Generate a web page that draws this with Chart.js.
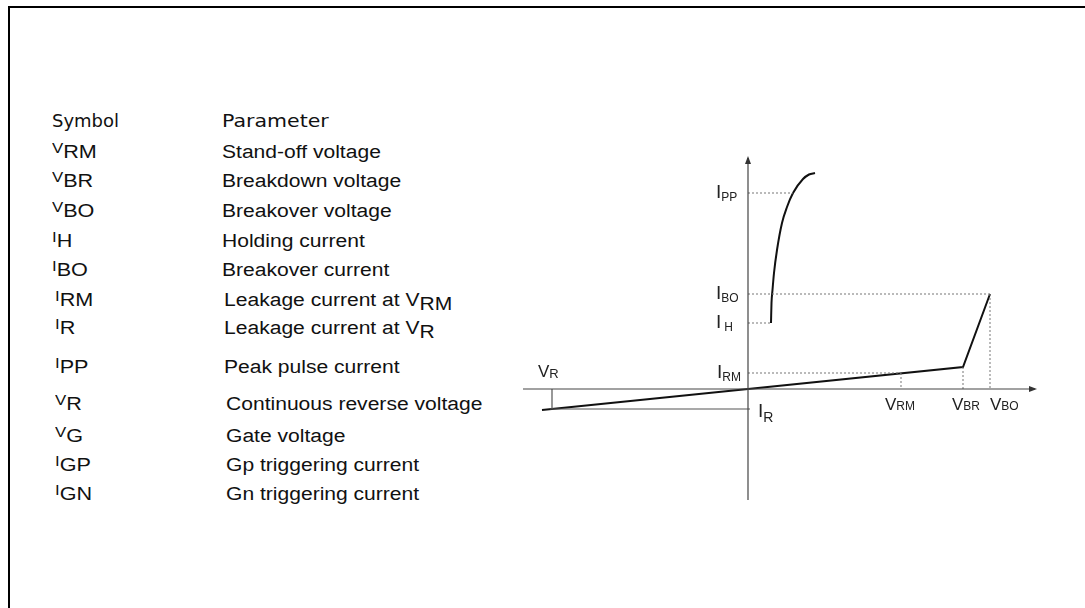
<!DOCTYPE html>
<html>
<head>
<meta charset="utf-8">
<script src="https://cdn.jsdelivr.net/npm/chart.js@4.4.0/dist/chart.umd.min.js"></script>
<style>
  body { margin: 0; background: #fff; width: 1085px; height: 608px; overflow: hidden; position: relative; }
  #frame { position: absolute; left: 8px; top: 6px; width: 1200px; height: 700px; border-top: 2px solid #000; border-left: 2px solid #000; }
  #chartBox { position: absolute; left: 0; top: 0; width: 1085px; height: 608px; }
  .row { position: absolute; white-space: nowrap; color: #111; line-height: 20px; transform-origin: left center; }
  .hdr { font-family: "DejaVu Sans", Verdana, sans-serif; font-size: 18px; }
  .hdr.wide { transform: scaleX(1.14); }
  .par { font-family: "Liberation Sans", Arial, sans-serif; font-size: 18px; transform: scaleX(1.17); }
  .sym { font-family: "Liberation Sans", Arial, sans-serif; transform: scaleX(1.2); }
  .sym .m { font-size: 14px; position: relative; top: -5px; }
  .sym .s { font-size: 18px; }
  .par .sub { position: relative; top: 4px; }
</style>
</head>
<body>
<div id="frame"></div>
<div id="table"></div>
<div id="chartBox"><canvas id="myChart"></canvas></div>
<script>
// Symbol table
var symbols = [
  ['V', 'RM'], ['V', 'BR'], ['V', 'BO'], ['I', 'H'], ['I', 'BO'], ['I', 'RM'],
  ['I', 'R'], ['I', 'PP'], ['V', 'R'], ['V', 'G'], ['I', 'GP'], ['I', 'GN']
];
var parameters = [
  'Stand-off voltage', 'Breakdown voltage', 'Breakover voltage', 'Holding current',
  'Breakover current', 'Leakage current at V<span class="sub">RM</span>',
  'Leakage current at V<span class="sub">R</span>', 'Peak pulse current',
  'Continuous reverse voltage', 'Gate voltage', 'Gp triggering current', 'Gn triggering current'
];

// schematic I-V characteristic (arbitrary units: V along x, I along y)
var V_R = -19.6, V_RM = 15.3, V_BR = 21.5, V_BO = 24.2;
var I_R = -2.0, I_RM = 1.6, I_H = 6.6, I_BO = 9.5, I_PP = 19.6;
var I_atBR = 2.2;
var mainV = [-20.6, 0, V_BR, V_BO];
var mainI = [-2.1, 0, I_atBR, I_BO];
var holdV = [2.3, 2.35, 2.45, 2.6, 2.9, 3.4, 3.9, 4.5, 5.5, 6.1, 6.7];
var holdI = [I_H, 8.6, 9.9, 11.6, 13.9, 16.6, 18.2, I_PP, 21.0, 21.45, 21.6];
var axisV = [-22.5, 28.7];
var axisI = [-11.1, 23.1];

// table layout
var rowBase = [158, 187, 217, 247, 276, 306, 334, 373, 410, 442, 471, 500];
var symX = [52, 52, 52, 52, 52, 55, 55, 55, 55, 55, 55, 55];
var parX = [222, 222, 222, 222, 222, 224, 224, 224, 226, 226, 226, 226];

var html = '<div class="row hdr" style="left:52px;top:111px">Symbol</div>' +
           '<div class="row hdr wide" style="left:222px;top:111px">Parameter</div>';
for (var i = 0; i < symbols.length; i++) {
  var rowTop = rowBase[i] - 16;
  html += '<div class="row sym" style="left:' + symX[i] + 'px;top:' + rowTop + 'px"><span class="m">' +
          symbols[i][0] + '</span><span class="s">' + symbols[i][1] + '</span></div>';
  html += '<div class="row par" style="left:' + parX[i] + 'px;top:' + rowTop + 'px">' + parameters[i] + '</div>';
}
document.getElementById('table').innerHTML = html;

function pts(xs, ys) {
  return xs.map(function (x, k) { return { x: x, y: ys[k] }; });
}

var dotted = [
  [[0, I_PP], [4.5, I_PP]],
  [[0, I_BO], [V_BO, I_BO]],
  [[0, I_H], [holdV[0], I_H]],
  [[0, I_RM], [V_RM, I_RM]],
  [[V_RM, I_RM], [V_RM, 0]],
  [[V_BR, I_atBR], [V_BR, 0]],
  [[V_BO, I_BO], [V_BO, 0]]
];
var solidGray = [
  [[V_R, 0], [V_R, I_R]],
  [[-19.8, I_R], [0.2, I_R]]
];

var datasets = [
  { data: pts(axisV, [0, 0]), borderColor: '#444', borderWidth: 1.2 },
  { data: pts([0, 0], axisI), borderColor: '#444', borderWidth: 1.2 }
];
dotted.forEach(function (seg) {
  datasets.push({ data: pts([seg[0][0], seg[1][0]], [seg[0][1], seg[1][1]]),
    borderColor: '#777', borderWidth: 1, borderDash: [2, 2] });
});
solidGray.forEach(function (seg) {
  datasets.push({ data: pts([seg[0][0], seg[1][0]], [seg[0][1], seg[1][1]]),
    borderColor: '#555', borderWidth: 1.2 });
});
datasets.push({ data: pts(mainV, mainI), borderColor: '#111', borderWidth: 2 });
datasets.push({ data: pts(holdV, holdI), borderColor: '#111', borderWidth: 2, cubicInterpolationMode: 'monotone' });
datasets.forEach(function (d) { d.showLine = true; d.pointRadius = 0; d.clip = false; d.fill = false; });

// labels with subscripts + axis arrows
var labelPlugin = {
  id: 'labels',
  afterDatasetsDraw: function (chart) {
    var ctx = chart.ctx, xs = chart.scales.x, ys = chart.scales.y;
    var x0 = xs.getPixelForValue(0), y0 = ys.getPixelForValue(0);
    ctx.save();
    ctx.fillStyle = '#333';
    // arrows
    var xe = xs.getPixelForValue(axisV[1]), yt = ys.getPixelForValue(axisI[1]);
    ctx.beginPath(); ctx.moveTo(xe + 2, y0); ctx.lineTo(xe - 6, y0 - 3); ctx.lineTo(xe - 6, y0 + 3); ctx.fill();
    ctx.beginPath(); ctx.moveTo(x0, yt - 2); ctx.lineTo(x0 - 3, yt + 6); ctx.lineTo(x0 + 3, yt + 6); ctx.fill();

    ctx.fillStyle = '#222';
    ctx.textBaseline = 'alphabetic';
    function lab(x, y, main, sub, mSize, sSize, gap, dy) {
      ctx.font = mSize + 'px "Liberation Sans", Arial, sans-serif';
      ctx.fillText(main, x, y);
      var w = ctx.measureText(main).width;
      ctx.font = sSize + 'px "Liberation Sans", Arial, sans-serif';
      ctx.fillText(sub, x + w + gap, y + dy);
    }
    lab(x0 - 32, ys.getPixelForValue(I_PP) + 5, 'I', 'PP', 19, 12, 0, 3);
    lab(x0 - 32, ys.getPixelForValue(I_BO) + 5, 'I', 'BO', 19, 12, 0, 3);
    lab(x0 - 32, ys.getPixelForValue(I_H) + 5, 'I', 'H', 19, 12, 3, 3);
    lab(x0 - 31, ys.getPixelForValue(I_RM) + 5, 'I', 'RM', 19, 12, 0, 3);
    lab(x0 + 10, ys.getPixelForValue(I_R) + 8, 'I', 'R', 19, 14, 0, 5);
    lab(xs.getPixelForValue(V_R) - 14, y0 - 12, 'V', 'R', 17, 13, 0, 1);
    lab(xs.getPixelForValue(V_RM) - 16, y0 + 21, 'V', 'RM', 17, 12, 0, 0);
    lab(xs.getPixelForValue(V_BR) - 11, y0 + 21, 'V', 'BR', 17, 12, 0, 0);
    lab(xs.getPixelForValue(V_BO), y0 + 21, 'V', 'BO', 17, 12, 0, 0);
    ctx.restore();
  }
};

var ctx = document.getElementById('myChart').getContext('2d');
var myChart = new Chart(ctx, {
  type: 'scatter',
  data: { datasets: datasets },
  options: {
    responsive: true,
    maintainAspectRatio: false,
    animation: false,
    layout: { padding: { left: 523, right: 50, top: 158, bottom: 108 } },
    plugins: { legend: { display: false }, tooltip: { enabled: false } },
    scales: {
      x: { type: 'linear', min: axisV[0], max: axisV[1], display: false },
      y: { type: 'linear', min: axisI[0], max: axisI[1], display: false }
    }
  },
  plugins: [labelPlugin]
});
</script>
</body>
</html>
